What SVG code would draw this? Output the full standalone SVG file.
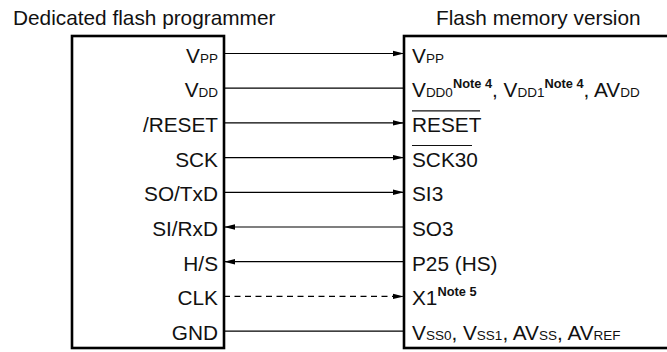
<svg xmlns="http://www.w3.org/2000/svg" width="667" height="352" viewBox="0 0 667 352">
<style>
text{font-family:"Liberation Sans",Arial,sans-serif;font-size:20.8px;fill:#111}
.l{text-anchor:end}
.s{font-size:13.5px}
.n{font-size:12.8px;font-weight:bold}
.box{fill:#fff;stroke:#000;stroke-width:2.6}
.w{stroke:#000;stroke-width:1.2;fill:none}
.d{stroke-dasharray:6,4.5}
.ov{stroke:#111;stroke-width:1.2}
</style>
<defs>
<marker id="ah" markerUnits="userSpaceOnUse" markerWidth="11" markerHeight="7" refX="11" refY="3.5" orient="auto">
<path d="M0,0.8 L11,3.5 L0,6.2 Z" fill="#000"/>
</marker>
</defs>
<text x="13" y="25">Dedicated flash programmer</text>
<text x="436" y="25">Flash memory version</text>
<g id="programmer">
<rect class="box" x="72" y="36" width="152" height="312"/>
<text class="l" x="218" y="62.5">V<tspan class="s">PP</tspan></text>
<text class="l" x="218" y="97.2">V<tspan class="s">DD</tspan></text>
<text class="l" x="218" y="131.9">/RESET</text>
<text class="l" x="218" y="166.6">SCK</text>
<text class="l" x="218" y="201.3">SO/TxD</text>
<text class="l" x="218" y="236">SI/RxD</text>
<text class="l" x="218" y="270.7">H/S</text>
<text class="l" x="218" y="305.4">CLK</text>
<text class="l" x="218" y="340.1">GND</text>
</g>
<g id="flash">
<rect class="box" x="404" y="36" width="265" height="312"/>
<text x="412" y="62.5">V<tspan class="s">PP</tspan></text>
<text x="412" y="97.2">V<tspan class="s">DD0</tspan><tspan class="n" dy="-9">Note 4</tspan><tspan dy="9">, V</tspan><tspan class="s">DD1</tspan><tspan class="n" dy="-9">Note 4</tspan><tspan dy="9">, AV</tspan><tspan class="s">DD</tspan></text>
<text x="412" y="131.9">RESET</text>
<line class="ov" x1="412" y1="110.8" x2="480" y2="110.8"/>
<text x="412" y="166.6">SCK30</text>
<line class="ov" x1="412" y1="145.5" x2="472" y2="145.5"/>
<text x="412" y="201.3">SI3</text>
<text x="412" y="236">SO3</text>
<text x="412" y="270.7">P25 (HS)</text>
<text x="412" y="305.4">X1<tspan class="n" dy="-9">Note 5</tspan></text>
<text x="412" y="340.1">V<tspan class="s">SS0</tspan>, V<tspan class="s">SS1</tspan>, AV<tspan class="s">SS</tspan>, AV<tspan class="s">REF</tspan></text>
</g>
<g id="connectors">
<line class="w" x1="224" y1="53.5" x2="404" y2="53.5" marker-end="url(#ah)"/>
<line class="w" x1="224" y1="88.2" x2="404" y2="88.2"/>
<line class="w" x1="224" y1="122.9" x2="404" y2="122.9" marker-end="url(#ah)"/>
<line class="w" x1="224" y1="157.6" x2="404" y2="157.6" marker-end="url(#ah)"/>
<line class="w" x1="224" y1="192.3" x2="404" y2="192.3" marker-end="url(#ah)"/>
<line class="w" x1="404" y1="227" x2="224" y2="227" marker-end="url(#ah)"/>
<line class="w" x1="404" y1="261.7" x2="224" y2="261.7" marker-end="url(#ah)"/>
<line class="w d" x1="224" y1="296.4" x2="404" y2="296.4" marker-end="url(#ah)"/>
<line class="w" x1="224" y1="331.1" x2="404" y2="331.1"/>
</g>
</svg>
